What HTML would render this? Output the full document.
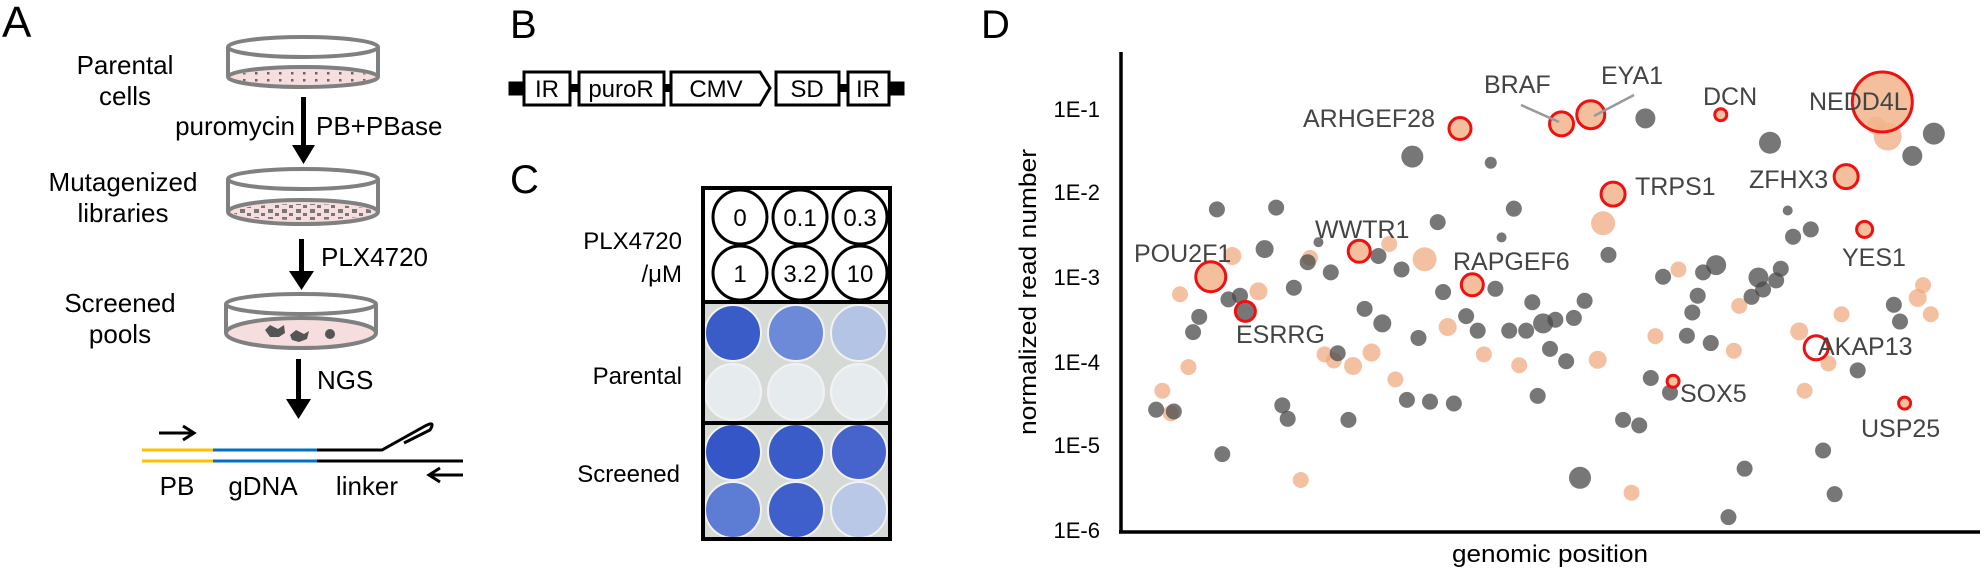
<!DOCTYPE html>
<html><head><meta charset="utf-8"><style>
html,body{margin:0;padding:0;background:#fff;}
svg{display:block;font-family:"Liberation Sans",Arial,sans-serif;}
</style></head><body>
<svg id="s" width="1984" height="571" viewBox="0 0 1984 571" xmlns="http://www.w3.org/2000/svg">
<rect width="1984" height="571" fill="#fff"/>
<!-- Panel A -->
<text x="2" y="37" font-size="44">A</text>
<g font-size="26" text-anchor="middle" fill="#000">
<text x="125" y="74">Parental</text><text x="125" y="105">cells</text>
<text x="123" y="191">Mutagenized</text><text x="123" y="222">libraries</text>
<text x="120" y="312">Screened</text><text x="120" y="343">pools</text>
</g>
<g font-size="26" fill="#000">
<text x="295" y="135" text-anchor="end">puromycin</text>
<text x="316" y="135">PB+PBase</text>
<text x="321" y="266">PLX4720</text>
<text x="317" y="389">NGS</text>
</g>
<defs><pattern id="dots" width="12" height="7" patternUnits="userSpaceOnUse"><rect x="3" y="2" width="2.5" height="2.5" fill="#666"/></pattern>
<pattern id="sq" width="14" height="8" patternUnits="userSpaceOnUse"><rect x="2" y="1" width="5" height="4" fill="#777"/><rect x="9" y="5" width="4" height="3" fill="#777"/></pattern></defs>
<!-- dish 1 -->
<g stroke="#808080" stroke-width="4">
<ellipse cx="303" cy="77" rx="75" ry="10" fill="#f6dede"/>
<ellipse cx="303" cy="77" rx="71" ry="7" fill="url(#dots)" stroke="none"/>
<line x1="228" y1="47" x2="228" y2="77"/><line x1="378" y1="47" x2="378" y2="77"/>
<ellipse cx="303" cy="47" rx="75" ry="10" fill="none"/>
<!-- dish 2 -->
<ellipse cx="303" cy="212" rx="75" ry="12" fill="#f6dede"/>
<ellipse cx="303" cy="212" rx="70" ry="8" fill="url(#sq)" stroke="none"/>
<line x1="228" y1="179" x2="228" y2="212"/><line x1="378" y1="179" x2="378" y2="212"/>
<ellipse cx="303" cy="179" rx="75" ry="10" fill="none"/>
<!-- dish 3 -->
<ellipse cx="301" cy="333" rx="75" ry="15" fill="#f6dede"/>
<line x1="226" y1="304" x2="226" y2="333"/><line x1="376" y1="304" x2="376" y2="333"/>
<ellipse cx="301" cy="304" rx="75" ry="10" fill="none"/>
</g>
<g fill="#555"><polygon points="265,330 270,325 278,329 284,325 285,333 279,337 270,337"/><polygon points="290,335 296,330 304,334 309,331 307,339 299,342 292,340"/><circle cx="330" cy="334" r="5"/></g>
<!-- arrows -->
<g fill="#000"><rect x="301" y="97" width="5" height="50"/><polygon points="292,145 315,145 303.5,164"/>
<rect x="299" y="239" width="5" height="34"/><polygon points="289,271 314,271 301.5,290"/>
<rect x="296" y="359" width="5" height="42"/><polygon points="286,399 311,399 298.5,419"/></g>
<!-- DNA -->
<g stroke-width="3" fill="none">
<line x1="142" y1="450" x2="213" y2="450" stroke="#ffc000"/><line x1="142" y1="461" x2="213" y2="461" stroke="#ffc000"/>
<line x1="213" y1="450" x2="317" y2="450" stroke="#0070c0"/><line x1="213" y1="461" x2="317" y2="461" stroke="#0070c0"/>
<path d="M317 450 L382 450 L425 426 Q436 420 430 430 L404 443" stroke="#000"/>
<line x1="317" y1="461" x2="463" y2="461" stroke="#000"/>
<path d="M159 433 L193 433 M183 426 L194 433 L183 440" stroke="#000"/>
<path d="M430 475 L463 475 M440 468 L429 475 L440 482" stroke="#000"/>
</g>
<g font-size="26" text-anchor="middle"><text x="177" y="495">PB</text><text x="263" y="495">gDNA</text><text x="367" y="495">linker</text></g>
<!-- Panel B -->
<text x="510" y="38" font-size="40">B</text>
<g stroke="#000" stroke-width="3" fill="#fff">
<rect x="510" y="83" width="14" height="11" fill="#000"/>
<rect x="570" y="84" width="9" height="8" fill="#000" stroke="none"/>
<rect x="664" y="84" width="7" height="8" fill="#000" stroke="none"/>
<rect x="839" y="84" width="9" height="8" fill="#000" stroke="none"/>
<rect x="889" y="83" width="14" height="11" fill="#000"/>
<rect x="524" y="72" width="46" height="33"/>
<rect x="579" y="72" width="85" height="33"/>
<polygon points="671,72 760,72 770,88 760,105 671,105"/>
<rect x="776" y="72" width="63" height="33"/>
<rect x="848" y="72" width="41" height="33"/>
</g>
<g font-size="24" text-anchor="middle"><text x="547" y="97">IR</text><text x="621" y="97">puroR</text><text x="716" y="97">CMV</text><text x="807" y="97">SD</text><text x="868" y="97">IR</text></g>
<!-- Panel C -->
<text x="510" y="193" font-size="40">C</text>
<g font-size="24" text-anchor="end"><text x="682" y="249">PLX4720</text><text x="682" y="282">/μM</text><text x="682" y="384">Parental</text><text x="680" y="482">Screened</text></g>
<rect x="703" y="302" width="187" height="237" fill="#d6dad6"/>
<g id="wells"></g>
<g stroke="#000" stroke-width="3" fill="#fff">
<circle cx="740" cy="217" r="27"/><circle cx="800" cy="217" r="27"/><circle cx="860" cy="217" r="27"/>
<circle cx="740" cy="273" r="27"/><circle cx="800" cy="273" r="27"/><circle cx="860" cy="273" r="27"/>
</g>
<g font-size="24" text-anchor="middle"><text x="740" y="226">0</text><text x="800" y="226">0.1</text><text x="860" y="226">0.3</text><text x="740" y="282">1</text><text x="800" y="282">3.2</text><text x="860" y="282">10</text></g>
<g stroke="#000" stroke-width="4" fill="none"><rect x="703" y="188" width="187" height="351"/><line x1="703" y1="302" x2="890" y2="302"/><line x1="703" y1="423" x2="890" y2="423"/></g>
<!-- Panel D -->
<text x="981" y="38" font-size="40">D</text>
<g id="pts"></g>
<g stroke="#999" stroke-width="2.5"><line x1="1521" y1="105" x2="1559" y2="122"/><line x1="1634" y1="95" x2="1594" y2="116"/></g>
<g font-size="25" fill="#444">
<text x="1484" y="93">BRAF</text><text x="1601" y="84">EYA1</text><text x="1703" y="105">DCN</text><text x="1809" y="110">NEDD4L</text>
<text x="1303" y="127">ARHGEF28</text><text x="1635" y="195">TRPS1</text><text x="1749" y="188">ZFHX3</text>
<text x="1315" y="238">WWTR1</text><text x="1134" y="262">POU2F1</text><text x="1453" y="270">RAPGEF6</text>
<text x="1842" y="266">YES1</text><text x="1236" y="343">ESRRG</text><text x="1818" y="355">AKAP13</text>
<text x="1680" y="402">SOX5</text><text x="1861" y="437">USP25</text>
</g>
<g stroke="#000" stroke-width="3.5"><line x1="1121" y1="52" x2="1121" y2="533"/><line x1="1119" y1="532" x2="1980" y2="532"/></g>
<g font-size="22" text-anchor="end" fill="#000">
<text x="1100" y="117">1E-1</text><text x="1100" y="200">1E-2</text><text x="1100" y="285">1E-3</text><text x="1100" y="370">1E-4</text><text x="1100" y="453">1E-5</text><text x="1100" y="538">1E-6</text>
</g>
<text transform="translate(1036,292) rotate(-90)" font-size="24" text-anchor="middle" textLength="286" lengthAdjust="spacingAndGlyphs">normalized read number</text>
<text x="1452" y="562" font-size="24" textLength="196" lengthAdjust="spacingAndGlyphs">genomic position</text>
</svg>
<script>
var NS="http://www.w3.org/2000/svg";
function C(p,cx,cy,r,f,s,sw,o){var c=document.createElementNS(NS,"circle");c.setAttribute("cx",cx);c.setAttribute("cy",cy);c.setAttribute("r",r);c.setAttribute("fill",f);if(s){c.setAttribute("stroke",s);c.setAttribute("stroke-width",sw);}if(o)c.setAttribute("fill-opacity",o);p.appendChild(c);}
var W=document.getElementById("wells");
var cols=[733,796,859],wl=[[["#3a5cc8","#6c8ad8","#b4c4e4"],["#e6ecee","#e6ecee","#e6ecee"]],[["#3556c6","#3a5cc8","#4664cc"],["#5d7cd4","#3f60ca","#b9c8e6"]]];
var ry=[[333,392],[452,510]];
for(var s=0;s<2;s++)for(var r=0;r<2;r++)for(var c=0;c<3;c++)C(W,cols[c],ry[s][r],28,wl[s][r][c],"#f2f2f2",2);
var P=document.getElementById("pts");
function X(x){return 780+x/1.3}function Y(y){return y/2.746}
var g=[[822,430,11],[924,447,6],[1125,325,10],[1287,392,11],[1500,367,11],[1472,428,10],[568,575,8],[645,570,8],[855,610,8],[954,573,8],[938,652,5],[630,684,9],[700,665,5],[686,720,8],[716,748,8],[778,703,8],[808,740,8],[668,790,8],[760,848,8],[783,888,9],[862,802,8],[930,793,8],[892,868,8],[907,908,8],[948,908,8],[970,908,8],[978,830,8],[992,888,10],[1008,878,8],[1032,873,8],[1046,826,8],[1077,700,8],[1001,958,8],[1022,992,8],[583,822,8],[598,812,8],[605,855,9],[545,870,8],[537,912,8],[830,928,8],[725,970,8],[489,1125,8],[512,1130,8],[653,1113,8],[660,1150,8],[739,1153,8],[815,1098,8],[845,1103,8],[876,1108,8],[985,1087,8],[575,1247,8],[1040,1312,11],[1233,1420,8],[1096,1153,8],[1117,1168,8],[1132,1038,8],[1157,1078,8],[1148,760,8],[1200,748,8],[1217,728,10],[1193,812,8],[1186,858,8],[1179,922,8],[1210,942,8],[1272,762,10],[1278,795,8],[1295,770,8],[1301,738,8],[1263,815,8],[1310,578,5],[1317,650,8],[1340,630,8],[1254,1287,8],[1356,1237,8],[1371,1357,8],[1401,1017,8],[1448,837,8],[1456,883,8]];
var o=[[520,808,8],[531,1008,8],[497,1073,8],[508,1135,8],[588,703,9],[622,800,9],[689,708,8],[792,670,8],[838,712,12],[769,968,9],[708,973,8],[720,990,8],[745,1005,9],[800,1042,8],[677,1318,8],[868,898,9],[915,973,8],[961,1003,8],[1063,988,9],[1070,613,12],[1138,923,8],[1168,740,8],[1247,840,8],[1240,963,8],[1107,1353,8],[1325,910,9],[1332,1073,8],[1380,863,8],[1363,998,8],[1479,818,9],[1486,783,8],[1496,863,8],[1440,375,14],[1425,345,9]];
o.forEach(function(p){C(P,X(p[0]),Y(p[1]),p[2],"#eea67a",null,0,0.7)});
g.forEach(function(p){C(P,X(p[0]),Y(p[1]),p[2],"#4a4a4a",null,0,0.75)});
var h=[[884,353,11,1],[1016,340,12,1],[1054,315,14,1],[1223,315,6,1],[1433,280,30,1],[1083,533,12,1],[1386,485,12,1],[1410,630,8,1],[560,760,15,1],[753,690,11,1],[900,782,11,1],[605,855,10,0],[1347,955,12,0],[1161,1047,6,1],[1462,1107,6,1]];
h.forEach(function(p){C(P,X(p[0]),Y(p[1]),p[2],p[3]?"#f2b48c":"none","#ee1111",3,p[3]?0.85:0)});
</script>
</body></html>
